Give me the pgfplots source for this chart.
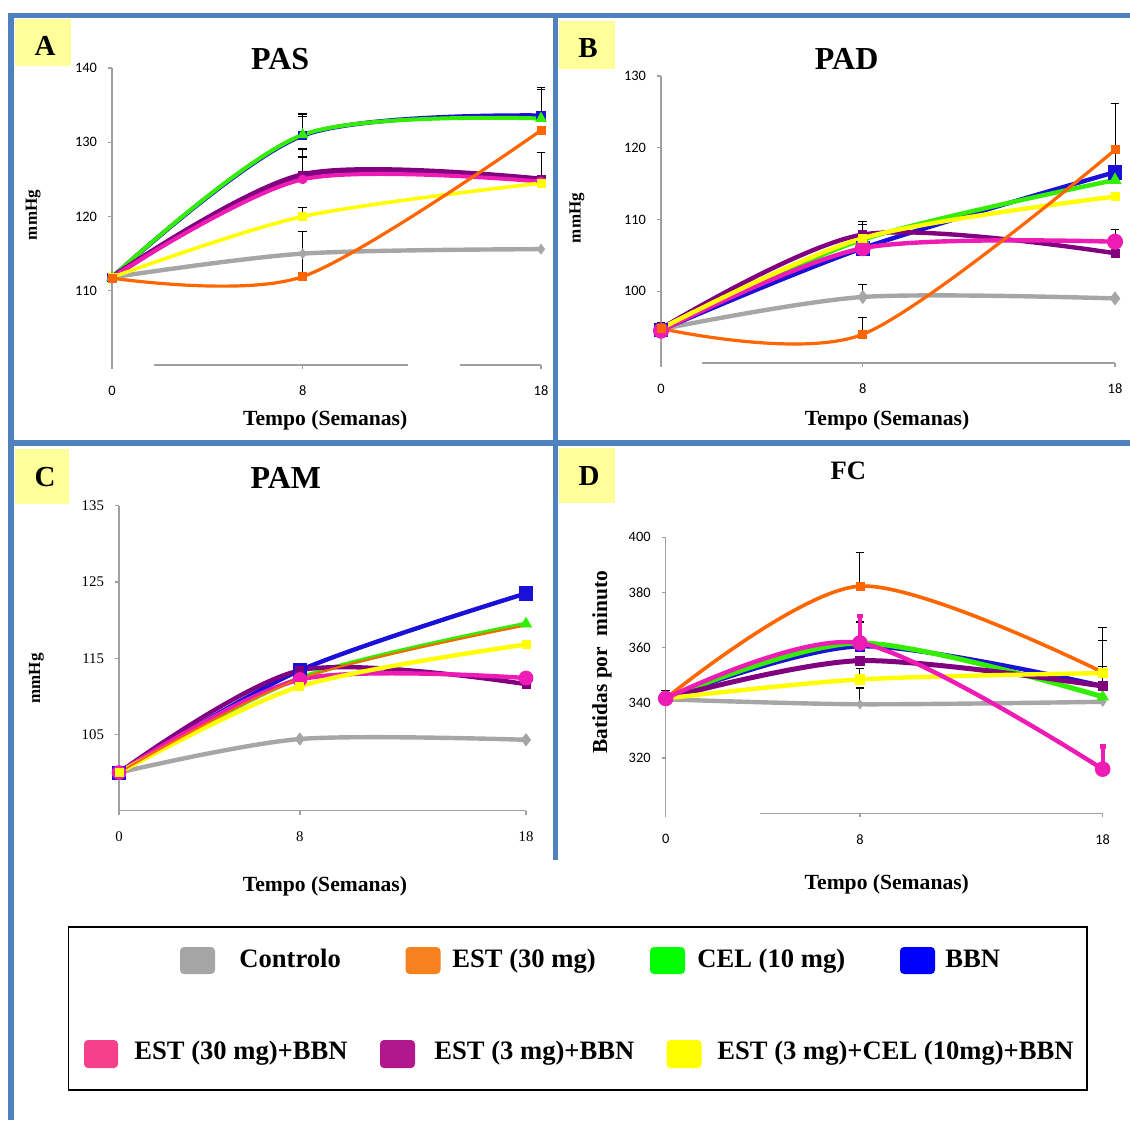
\documentclass[border=0pt]{standalone}
\usepackage{fontspec}
\setmainfont{Liberation Serif}
\newfontfamily\carlito{Carlito}
\usepackage{pgfplots}
\pgfplotsset{compat=1.18}

\definecolor{frameblue}{HTML}{4F81BD}
\definecolor{tagyellow}{HTML}{FFFF99}
\definecolor{axisgray}{HTML}{A0A0A0}
% line colours
\definecolor{cCtrl}{HTML}{A6A6A6}
\definecolor{cEst}{HTML}{FF6600}
\definecolor{cCel}{HTML}{33EE00}
\definecolor{cBbn}{HTML}{1A10D8}
\definecolor{cPink}{HTML}{EE1CB4}
\definecolor{cPurp}{HTML}{800080}
\definecolor{cYel}{HTML}{FFFF00}
% legend key colours
\definecolor{kCtrl}{HTML}{A5A5A5}
\definecolor{kEst}{HTML}{F5821F}
\definecolor{kCel}{HTML}{00FF00}
\definecolor{kBbn}{HTML}{0000FF}
\definecolor{kPink}{HTML}{F5418A}
\definecolor{kPurp}{HTML}{B0188C}
\definecolor{kYel}{HTML}{FFFF00}

\pgfplotsset{
  panel/.style={
    scale only axis, anchor=south west, clip=false,
    xmin=0, xmax=18, xtick={0,8,18},
    axis x line*=bottom, axis y line*=left,
    x axis line style={draw=none},
    y axis line style={draw=axisgray, line width=0.7pt},
    tick align=outside, major tick length=2pt,
    tick style={draw=axisgray, line width=0.7pt},
    /pgf/number format/assume math mode=true,
    tick label style={font=\carlito\fontsize{7.2}{8}\selectfont},
    xticklabel style={yshift=-5pt},
    yticklabel style={xshift=-2pt},
    xlabel={Tempo (Semanas)},
    xlabel style={font=\bfseries\fontsize{10.8}{12}\selectfont, anchor=center},
    ylabel style={font=\bfseries\fontsize{8.5}{10}\selectfont, anchor=center},
    title style={font=\bfseries\fontsize{16}{18}\selectfont, anchor=center},
  },
  ser/.style={smooth, line width=2.2pt, draw=#1, mark options={solid, fill=#1, draw=#1, line width=0.4pt}},
  ctrl/.style={ser=cCtrl, mark=diamond*, mark size=2.8pt},
  est30/.style={ser=cEst, line width=1.6pt, mark=square*, mark size=2pt},
  cel/.style={ser=cCel, mark=triangle*, mark size=3pt},
  bbn/.style={ser=cBbn, mark=square*, mark size=2.6pt},
  estbbn/.style={ser=cPink, mark=*, mark size=2.6pt},
  est3bbn/.style={ser=cPurp, mark=square*, mark size=2pt},
  triple/.style={ser=cYel, mark=square*, mark size=2pt},
  errb/.style={forget plot, draw=none, mark=none,
    error bars/.cd, y dir=plus, y explicit, error mark=-,
    error bar style={draw=black, line width=0.5pt, solid},
    error mark options={rotate=90, draw=black, line width=0.6pt, mark size=2.2pt}},
  errpink/.style={forget plot, draw=none, mark=none,
    error bars/.cd, y dir=plus, y explicit, error mark=-,
    error bar style={draw=cPink, line width=2.2pt, solid},
    error mark options={rotate=90, draw=cPink, line width=2.2pt, mark size=1.6pt}},
}

\newcommand\legfont{\bfseries\fontsize{13.3}{15}\selectfont}
\newcommand\tagfont{\bfseries\fontsize{14.5}{16}\selectfont}

\begin{document}
\begin{tikzpicture}
\path[use as bounding box] (0,0) rectangle (565pt,560pt);
\fill[white] (0,0) rectangle (565pt,560pt);

% panel frame
\draw[frameblue, line width=2.8pt, line join=miter] (5.6pt,0pt) -- (5.6pt,552.25pt) -- (565pt,552.25pt);
\draw[frameblue, line width=2.8pt] (277.75pt,552.25pt) -- (277.75pt,130pt);
\draw[frameblue, line width=2.8pt] (5.6pt,338.5pt) -- (565pt,338.5pt);

% panel tags
\fill[tagyellow] (7.5pt,527pt) rectangle (35.5pt,550.5pt);
\node[font=\tagfont, inner sep=0] at (22.5pt,536.9pt) {A};
\fill[tagyellow] (279.5pt,525.5pt) rectangle (307.5pt,549.5pt);
\node[font=\tagfont, inner sep=0] at (294pt,536pt) {B};
\fill[tagyellow] (7.5pt,308pt) rectangle (34.5pt,335.5pt);
\node[font=\tagfont, inner sep=0] at (22.5pt,321.5pt) {C};
\fill[tagyellow] (279.5pt,308.5pt) rectangle (307.5pt,336pt);
\node[font=\tagfont, inner sep=0] at (294.5pt,321.75pt) {D};

% ---------------- PAS ----------------
\begin{axis}[panel, at={(56pt,377.5pt)}, width=214.5pt, height=148.5pt,
  ymin=100, ymax=140, ytick={110,120,130,140},
  title={PAS}, title style={at={(axis description cs:0.392,0.99)}},
  ylabel={mmHg}, ylabel style={at={(axis description cs:-0.184,0.505)}},
  xlabel style={at={(axis description cs:0.497,-0.1875)}}]
\draw[axisgray, line width=0.7pt] (axis cs:1.75,100) -- (axis cs:12.4,100) (axis cs:14.6,100) -- (axis cs:18,100);
\addplot[ctrl, mark size=2.4pt] coordinates {(0,111.8) (8,115.0) (18,115.6)};
\addplot[bbn, mark size=2.1pt] coordinates {(0,111.8) (8,130.9) (18,133.6)};
\addplot[cel, line width=2pt] coordinates {(0,111.8) (8,131.0) (18,133.2)};
\addplot[est3bbn, line width=2.8pt] coordinates {(0,111.8) (8,125.6) (18,125.0)};
\addplot[estbbn, line width=2pt, mark size=2.2pt] coordinates {(0,111.8) (8,125.0) (18,124.7)};
\addplot[triple, line width=1.8pt] coordinates {(0,111.8) (8,120.0) (18,124.5)};
\addplot[est30] coordinates {(0,111.7) (8,111.9) (18,131.6)};
\addplot[errb] coordinates {(8,131.0) +- (0,2.8) (8,130.9) +- (0,2.6)
  (8,125.6) +- (0,3.5) (8,125.0) +- (0,3.0) (8,120.0) +- (0,1.2) (8,111.9) +- (0,6.1)
  (18,133.6) +- (0,3.8) (18,133.2) +- (0,3.9) (18,125.0) +- (0,3.6)};
\end{axis}

% ---------------- PAD ----------------
\begin{axis}[panel, at={(330.5pt,378.5pt)}, width=227pt, height=143.5pt,
  ymin=90, ymax=130, ytick={100,110,120,130},
  title={PAD}, title style={at={(axis description cs:0.409,1.017)}},
  ylabel={mmHg}, ylabel style={at={(axis description cs:-0.185,0.505)}},
  xlabel style={at={(axis description cs:0.498,-0.201)}}]
\draw[axisgray, line width=0.7pt] (axis cs:1.63,90) -- (axis cs:18,90);
\addplot[ctrl, mark size=3.2pt] coordinates {(0,94.7) (8,99.2) (18,99.0)};
\addplot[bbn, mark size=3.4pt] coordinates {(0,94.6) (8,106.0) (18,116.6)};
\addplot[cel, mark size=3.4pt] coordinates {(0,94.7) (8,107.2) (18,115.5)};
\addplot[est3bbn] coordinates {(0,94.8) (8,107.9) (18,105.3)};
\addplot[estbbn, mark size=3.8pt] coordinates {(0,94.5) (8,106.0) (18,106.9)};
\addplot[triple] coordinates {(0,94.8) (8,107.4) (18,113.2)};
\addplot[est30] coordinates {(0,94.8) (8,94.0) (18,119.7)};
\addplot[errb] coordinates {(0,94.7) +- (0,0.9)
  (8,107.9) +- (0,1.8) (8,107.4) +- (0,1.9) (8,99.2) +- (0,1.7) (8,94.0) +- (0,2.3)
  (18,119.7) +- (0,6.5) (18,116.6) +- (0,3.7) (18,106.9) +- (0,1.7)};
\end{axis}

% ---------------- PAM ----------------
\begin{axis}[panel, at={(59.5pt,154.65pt)}, width=203.5pt, height=152.5pt,
  ymin=95, ymax=135, ytick={105,115,125,135},
  x axis line style={draw=axisgray, line width=0.7pt},
  tick label style={font=\fontsize{7.4}{8}\selectfont},
  title={PAM}, title style={at={(axis description cs:0.41,1.052)}},
  ylabel={mmHg}, ylabel style={at={(axis description cs:-0.203,0.434)}},
  xlabel style={at={(axis description cs:0.506,-0.247)}}]
\addplot[ctrl, mark size=3pt] coordinates {(0,100.0) (8,104.4) (18,104.3)};
\addplot[bbn, mark size=3.3pt] coordinates {(0,100.0) (8,113.4) (18,123.5)};
\addplot[cel, mark size=3.2pt] coordinates {(0,100.0) (8,112.4) (18,119.5)};
\addplot[est3bbn] coordinates {(0,100.0) (8,113.4) (18,111.6)};
\addplot[estbbn, mark size=3.5pt] coordinates {(0,100.0) (8,112.2) (18,112.4)};
\addplot[triple] coordinates {(0,100.0) (8,111.3) (18,116.8)};
\addplot[est30, line width=1pt, mark=none] coordinates {(0,100.0) (8,112.3) (18,119.3)};
\end{axis}

% ---------------- FC ----------------
\begin{axis}[panel, at={(332.85pt,153.35pt)}, width=218.5pt, height=138pt,
  ymin=300, ymax=400, ytick={320,340,...,400},
  title={FC}, title style={at={(axis description cs:0.418,1.196)}, font=\bfseries\fontsize{13.3}{15}\selectfont},
  ylabel={Batidas por\enspace minuto}, ylabel style={at={(axis description cs:-0.146,0.548)}, font=\bfseries\fontsize{10.7}{12}\selectfont},
  xlabel style={at={(axis description cs:0.506,-0.256)}}]
\draw[axisgray, line width=0.7pt] (axis cs:3.9,300) -- (axis cs:18,300);
\addplot[ctrl, mark size=2.2pt] coordinates {(0,341.3) (8,339.5) (18,340.4)};
\addplot[bbn, mark size=2.4pt] coordinates {(0,341.6) (8,360.5) (18,346.1)};
\addplot[cel, line width=2.5pt, mark size=3.2pt] coordinates {(0,341.6) (8,361.7) (18,342.2)};
\addplot[est3bbn, line width=2.5pt, mark size=2.2pt] coordinates {(0,341.6) (8,355.3) (18,346.1)};
\addplot[est30, line width=1.8pt] coordinates {(0,341.6) (8,382.3) (18,351.1)};
\addplot[triple, mark size=2.4pt] coordinates {(0,341.6) (8,348.5) (18,350.8)};
\addplot[errb] coordinates {(0,341.6) +- (0,3.0)
  (8,382.3) +- (0,12.2) (8,360.5) +- (0,8.8) (8,348.5) +- (0,4.1) (8,339.5) +- (0,5.9)
  (18,351.1) +- (0,16.2) (18,346.1) +- (0,16.4) (18,346.1) +- (0,7.2)};
\addplot[estbbn, mark size=3.7pt] coordinates {(0,341.6) (8,361.7) (18,316.0)};
\addplot[errpink] coordinates {(8,361.7) +- (0,9.8) (18,316.0) +- (0,8.2)};
\end{axis}

% legend
\draw[black, line width=0.8pt] (34.15pt,14.95pt) rectangle (543.5pt,96.65pt);
\begin{scope}[every node/.style={inner sep=0}]
\node[fill=kCtrl, rounded corners=2pt, minimum width=17.5pt, minimum height=13.5pt] at (98.75pt,79.75pt) {};
\node[anchor=base west, font=\legfont] at (119.5pt,76.1pt) {Controlo};
\node[fill=kEst, rounded corners=2pt, minimum width=17.5pt, minimum height=13.5pt] at (211.5pt,79.75pt) {};
\node[anchor=base west, font=\legfont] at (226pt,76.1pt) {EST (30 mg)};
\node[fill=kCel, rounded corners=2pt, minimum width=17.5pt, minimum height=13.5pt] at (333.75pt,79.75pt) {};
\node[anchor=base west, font=\legfont] at (348.5pt,76.1pt) {CEL (10 mg)};
\node[fill=kBbn, rounded corners=2pt, minimum width=17.5pt, minimum height=13.5pt] at (458.75pt,79.75pt) {};
\node[anchor=base west, font=\legfont] at (472.5pt,76.1pt) {BBN};
\node[fill=kPink, rounded corners=2pt, minimum width=17pt, minimum height=14pt] at (50.5pt,33pt) {};
\node[anchor=base west, font=\legfont] at (67pt,30.1pt) {EST (30 mg)+BBN};
\node[fill=kPurp, rounded corners=2pt, minimum width=17.5pt, minimum height=14pt] at (198.75pt,33pt) {};
\node[anchor=base west, font=\legfont] at (217pt,30.1pt) {EST (3 mg)+BBN};
\node[fill=kYel, rounded corners=2pt, minimum width=17.5pt, minimum height=14pt] at (342pt,33pt) {};
\node[anchor=base west, font=\legfont] at (358.5pt,30.1pt) {EST (3 mg)+CEL (10mg)+BBN};
\end{scope}
\end{tikzpicture}
\end{document}
